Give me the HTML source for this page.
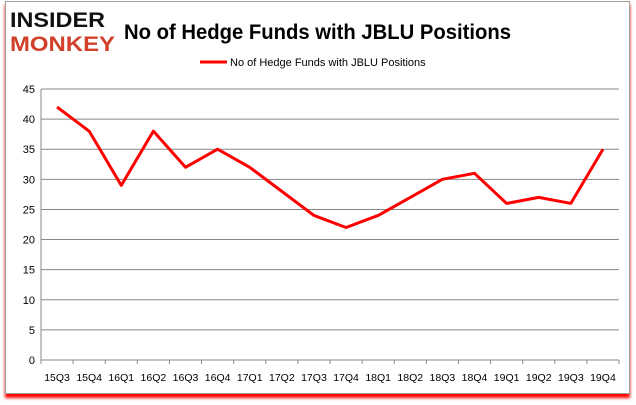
<!DOCTYPE html>
<html><head><meta charset="utf-8"><style>
body{margin:0;width:636px;height:405px;background:#fff;overflow:hidden;font-family:"Liberation Sans",sans-serif}
#frame{position:absolute;left:5px;top:1px;width:623px;height:391px;border:1px solid #a0a0a0;background:#fff;box-shadow:0 4px 3px #f00}
</style></head><body>
<div id="frame"></div>
<svg width="636" height="405" style="position:absolute;left:0;top:0">
<g font-weight="bold" font-family="Liberation Sans,sans-serif">
<text x="10" y="27" font-size="21" fill="#111" textLength="95" lengthAdjust="spacingAndGlyphs">INSIDER</text>
<text x="10" y="51" font-size="21" fill="#d0402a" textLength="105" lengthAdjust="spacingAndGlyphs">MONKEY</text>
</g>
<text x="124" y="39" font-size="21" font-weight="bold" fill="#000" textLength="387" lengthAdjust="spacingAndGlyphs">No of Hedge Funds with JBLU Positions</text>
<g>
<line x1="200" y1="62" x2="227" y2="62" stroke="#f00" stroke-width="3"/>
<text x="230" y="66" font-size="11" fill="#000">No of Hedge Funds with JBLU Positions</text>
</g>
<g id="grid"></g><g id="axes"></g><g id="series"></g>
</svg>
<script>
const categories=["15Q3","15Q4","16Q1","16Q2","16Q3","16Q4","17Q1","17Q2","17Q3","17Q4","18Q1","18Q2","18Q3","18Q4","19Q1","19Q2","19Q3","19Q4"];
const values=[42,38,29,38,32,35,32,28,24,22,24,27,30,31,26,27,26,35];
const yTicks=[0,5,10,15,20,25,30,35,40,45];
const NS="http://www.w3.org/2000/svg";
const L=41,R=619,T=89,B=360,yMax=45;
const step=(R-L)/categories.length;
const x=i=>L+step*(i+0.5);
const y=v=>B-(B-T)*v/yMax;
function mk(tag,attrs,parent){const e=document.createElementNS(NS,tag);for(const k in attrs)e.setAttribute(k,attrs[k]);document.getElementById(parent).appendChild(e);return e;}
yTicks.forEach(t=>{
 const g=mk('line',{x1:L,x2:R,y1:y(t),y2:y(t),stroke:'#888','stroke-width':1},'grid');
 
 
 const tx=mk('text',{x:L-6,y:y(t)+4,'font-size':11,'text-anchor':'end',fill:'#000'},'axes');
 tx.textContent=t;
 
 
});
const ax=mk('line',{x1:L,x2:L,y1:T,y2:B,stroke:'#888'},'axes');


categories.forEach((c,i)=>{
 const tk=mk('line',{x1:L+step*i,x2:L+step*i,y1:B,y2:B+4,stroke:'#888'},'axes');
 
 
 const tx=mk('text',{x:x(i),y:B+21,'font-size':10.5,'text-anchor':'middle',fill:'#000'},'axes');
 tx.textContent=c;
 
 
});
const tk=mk('line',{x1:R,x2:R,y1:B,y2:B+4,stroke:'#888'},'axes');


const line=mk('polyline',{points:values.map((v,i)=>x(i)+','+y(v)).join(' '),fill:'none',stroke:'#f00','stroke-width':3,'stroke-linejoin':'round'},'series');


</script>
</body></html>
